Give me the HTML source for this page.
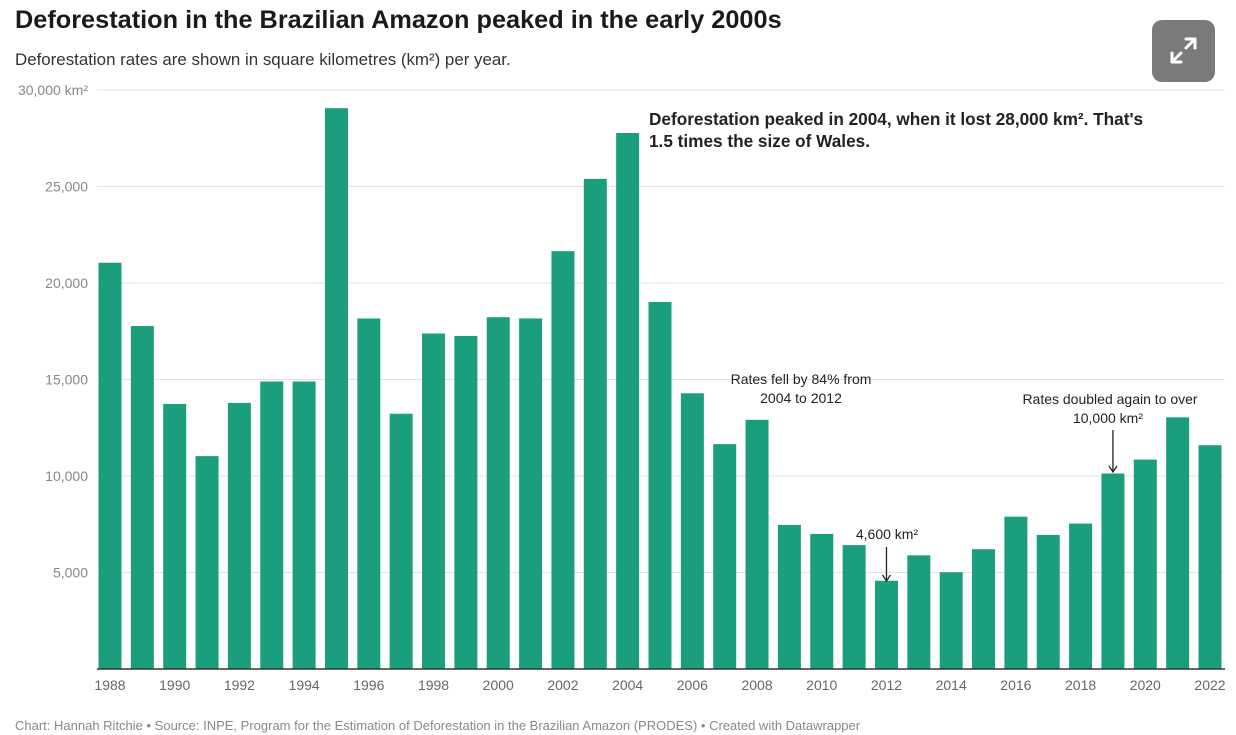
<!DOCTYPE html>
<html><head><meta charset="utf-8"><style>
body{margin:0;width:1236px;height:735px;background:#fff;font-family:"Liberation Sans",sans-serif;overflow:hidden;position:relative}
.t{position:absolute;white-space:nowrap}
</style></head><body>
<div class="t" style="left:15px;top:6px;font-size:25.3px;font-weight:bold;color:#1a1a1a">Deforestation in the Brazilian Amazon peaked in the early 2000s</div>
<div class="t" style="left:15px;top:50px;font-size:16.9px;color:#333">Deforestation rates are shown in square kilometres (km²) per year.</div>
<div style="position:absolute;left:1152px;top:20px;width:63px;height:62px;border-radius:10px;background:#7a7a7a">
<svg width="63" height="62" viewBox="0 0 63 62"><g stroke="#fff" stroke-width="3" fill="none" stroke-linecap="round" stroke-linejoin="round"><line x1="34" y1="28" x2="43" y2="19"/><polyline points="34,19 43,19 43,28"/><line x1="29" y1="33" x2="20" y2="42"/><polyline points="20,33 20,42 29,42"/></g></svg></div>
<svg id="c" width="1236" height="735" style="position:absolute;left:0;top:0" font-family="Liberation Sans, sans-serif"></svg>
<div class="t" style="left:15px;top:718px;font-size:13px;color:#888">Chart: Hannah Ritchie • Source: INPE, Program for the Estimation of Deforestation in the Brazilian Amazon (PRODES) • Created with Datawrapper</div>
<script>
const years=[1988,1989,1990,1991,1992,1993,1994,1995,1996,1997,1998,1999,2000,2001,2002,2003,2004,2005,2006,2007,2008,2009,2010,2011,2012,2013,2014,2015,2016,2017,2018,2019,2020,2021,2022];
const values=[21050,17770,13730,11030,13786,14896,14896,29059,18161,13227,17383,17259,18226,18165,21651,25396,27772,19014,14286,11651,12911,7464,7000,6418,4571,5891,5012,6207,7893,6947,7536,10129,10851,13038,11594];
const yTicks=[0,5000,10000,15000,20000,25000,30000];
const yTickLabels=["","5,000","10,000","15,000","20,000","25,000","30,000 km²"];
const svg=document.getElementById('c');const NS='http://www.w3.org/2000/svg';
const y=v=>669-v*(579/30000);
const x=i=>110+i*(1100/34);
function mk(t,a){const e=document.createElementNS(NS,t);for(const k in a)e.setAttribute(k,a[k]);svg.appendChild(e);return e;}
yTicks.forEach((v,i)=>{if(v>0){const l=mk('line',{x1:97,x2:1225,y1:y(v),y2:y(v),stroke:'#e3e3e3'});

}
const t=mk('text',{x:88,y:y(v)+5,'text-anchor':'end','font-size':14,fill:'#888'});t.textContent=yTickLabels[i];

});
values.forEach((v,i)=>{const r=mk('rect',{x:x(i)-11.5,y:y(v),width:23,height:669-y(v),fill:'#1b9e7d'});


if(i%2==0){const t=mk('text',{x:x(i),y:690,'text-anchor':'middle','font-size':14,fill:'#666'});t.textContent=years[i];

}});
const b=mk('line',{x1:97,x2:1225,y1:669,y2:669,stroke:'#333','stroke-width':1.5});


function txt(s,xx,yy,sz,anc,w,name){const t=mk('text',{x:xx,y:yy,'font-size':sz,'text-anchor':anc,'font-weight':w,fill:'#222'});t.textContent=s;

}
txt("Deforestation peaked in 2004, when it lost 28,000 km². That's",649,125,17.2,'start','bold','annotation-peak');
txt("1.5 times the size of Wales.",649,147,17.2,'start','bold','annotation-peak');
txt("Rates fell by 84% from",801,384,14,'middle','normal','annotation-fall');
txt("2004 to 2012",801,403,14,'middle','normal','annotation-fall');
txt("4,600 km²",887,539,14,'middle','normal','annotation-2012');
txt("Rates doubled again to over",1110,404,14,'middle','normal','annotation-rise');
txt("10,000 km²",1108,423,14,'middle','normal','annotation-rise');
function arrow(xx,y1,y2){mk('line',{x1:xx,x2:xx,y1:y1,y2:y2,stroke:'#222','stroke-width':1.3});mk('polyline',{points:`${xx-4},${y2-6} ${xx},${y2} ${xx+4},${y2-6}`,stroke:'#222',fill:'none','stroke-width':1.3});}
arrow(x(24),547,581);arrow(x(31),430,472);
</script>
</body></html>
